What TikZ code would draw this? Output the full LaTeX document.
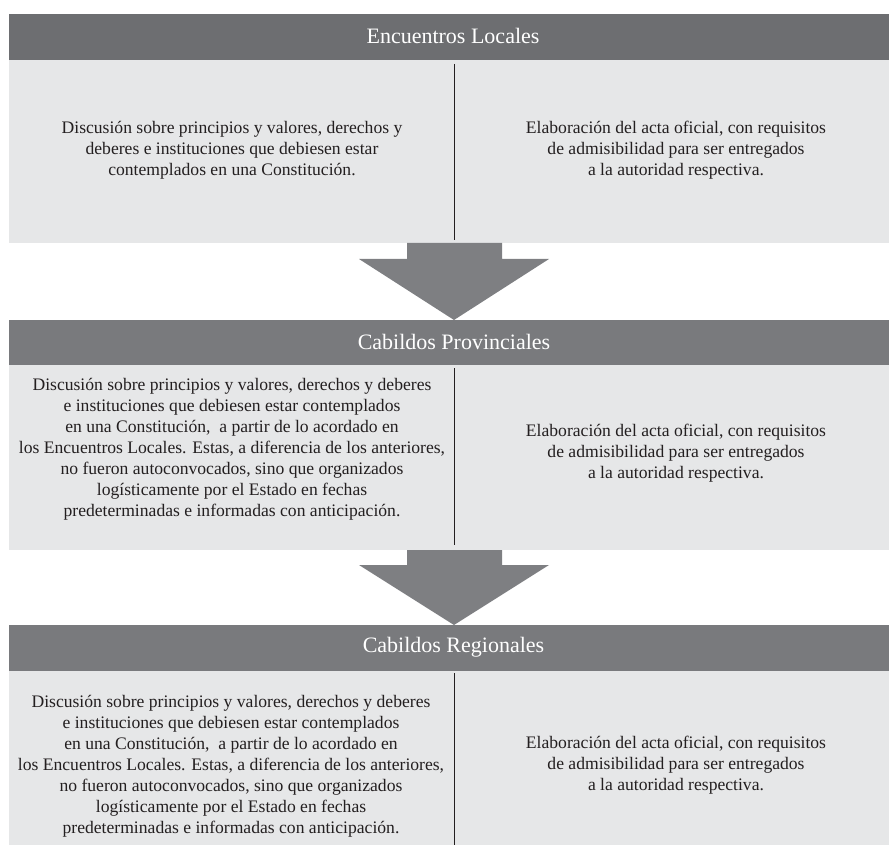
\documentclass[tikz,border=0pt]{standalone}
\usepackage{fontspec}
\setmainfont{Liberation Serif}
\definecolor{hdrgraya}{HTML}{6D6E71}
\definecolor{hdrgrayb}{HTML}{797A7D}
\definecolor{arrgray}{HTML}{7E7F82}
\definecolor{bodygray}{HTML}{E6E7E8}
\definecolor{ink}{HTML}{231F20}
\begin{document}
\begin{tikzpicture}[x=1pt,y=-1pt,
  hdr/.style={minimum width=880pt,minimum height=46pt,inner sep=0pt},
  title/.style={text=white,inner sep=0pt,font=\fontsize{22}{24}\selectfont},
  bodybox/.style={fill=bodygray,minimum width=880pt,inner sep=0pt},
  txt/.style={text=ink,align=center,inner sep=0pt,font=\fontsize{17.6}{21}\selectfont},
  divider/.style={draw=ink,line width=1pt},
  bigarrow/.style={fill=arrgray}]
\useasboundingbox (0,0) rectangle (889,845);
% boxes
\node[hdr,fill=hdrgraya] (h1) at (449,37) {};
\node[bodybox,minimum height=183pt] (b1) at (449,151.5) {};
\node[hdr,fill=hdrgrayb,minimum height=45pt] (h2) at (449,342.5) {};
\node[bodybox,minimum height=185pt] (b2) at (449,457.5) {};
\node[hdr,fill=hdrgrayb] (h3) at (449,648) {};
\node[bodybox,minimum height=180pt] (b3) at (449,761) {};
% titles
\node[title] (t1) at (453,36) {Encuentros Locales};
\node[title] (t2) at (454,341.5) {Cabildos Provinciales};
\node[title] (t3) at (453.5,647) {Cabildos Regionales};
% dividers
\coordinate (d1t) at (454,64); \coordinate (d1b) at (454,240);
\coordinate (d2t) at (454,368); \coordinate (d2b) at (454,545);
\coordinate (d3t) at (454,673); \coordinate (d3b) at (454,845);
\draw[divider] (d1t) -- (d1b);
\draw[divider] (d2t) -- (d2b);
\draw[divider] (d3t) -- (d3b);
% arrows
\fill[bigarrow] (407,243) -- (502,243) -- (502,259) -- (549,259) -- (454,320) -- (359,259) -- (407,259) -- cycle;
\fill[bigarrow] (407,550) -- (502,550) -- (502,565) -- (549,565) -- (454,625) -- (359,565) -- (407,565) -- cycle;
% texts
\node[txt] (l1) at (232,150) {Discusión sobre principios y valores, derechos y\\deberes e instituciones que debiesen estar\\contemplados en una Constitución.};
\node[txt] (r1) at (676,150) {Elaboración del acta oficial, con requisitos\\de admisibilidad para ser entregados\\a la autoridad respectiva.};
\node[txt] (l2) at (232,449) {Discusión sobre principios y valores, derechos y deberes\\e instituciones que debiesen estar contemplados\\en una Constitución,~ a partir de lo acordado en\\los Encuentros Locales. Estas, a diferencia de los anteriores,\\no fueron autoconvocados, sino que organizados\\logísticamente por el Estado en fechas\\predeterminadas e informadas con anticipación.};
\node[txt] (r2) at (676,453) {Elaboración del acta oficial, con requisitos\\de admisibilidad para ser entregados\\a la autoridad respectiva.};
\node[txt] (l3) at (231,766) {Discusión sobre principios y valores, derechos y deberes\\e instituciones que debiesen estar contemplados\\en una Constitución,~ a partir de lo acordado en\\los Encuentros Locales. Estas, a diferencia de los anteriores,\\no fueron autoconvocados, sino que organizados\\logísticamente por el Estado en fechas\\predeterminadas e informadas con anticipación.};
\node[txt] (r3) at (676,765) {Elaboración del acta oficial, con requisitos\\de admisibilidad para ser entregados\\a la autoridad respectiva.};
\end{tikzpicture}
\end{document}
